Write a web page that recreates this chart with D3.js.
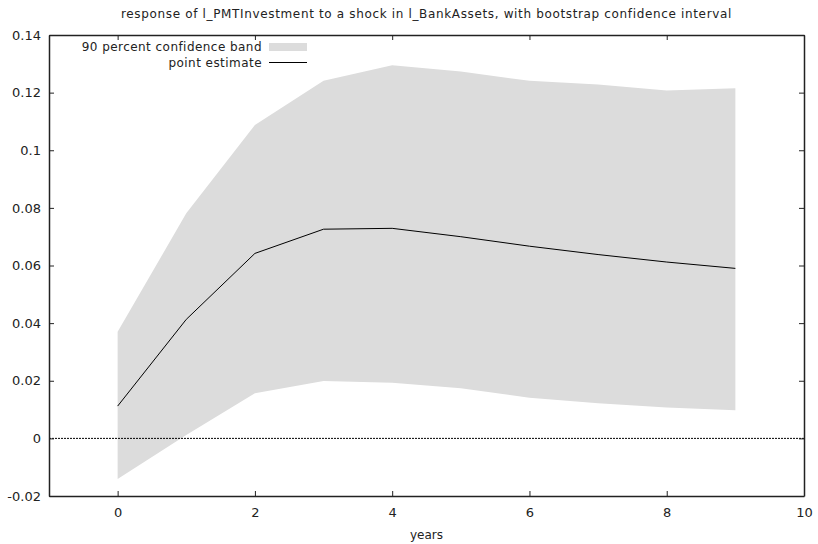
<!DOCTYPE html>
<html>
<head>
<meta charset="utf-8">
<script src="https://cdn.jsdelivr.net/npm/d3@7"></script>
<style>
  body { margin: 0; background: #fff; }
  svg { display: block; font-family: "DejaVu Sans", Verdana, sans-serif; }
</style>
</head>
<body>
<div id="chart"></div>
<script>
const years = [0, 1, 2, 3, 4, 5, 6, 7, 8, 9];
const pointEstimate = [0.0112, 0.0413, 0.0642, 0.0726, 0.0729, 0.0700, 0.0667, 0.0638, 0.0612, 0.0590];
const upperBand = [0.0370, 0.0781, 0.1088, 0.1241, 0.1295, 0.1273, 0.1241, 0.1228, 0.1207, 0.1215];
const lowerBand = [-0.0141, 0.0012, 0.0157, 0.0199, 0.0193, 0.0174, 0.0141, 0.0122, 0.0107, 0.0098];
const xTicks = [0, 2, 4, 6, 8, 10];
const yTicks = [-0.02, 0, 0.02, 0.04, 0.06, 0.08, 0.1, 0.12, 0.14];

const W = 818, H = 544;
const m = { left: 49, right: 14, top: 35, bottom: 48 };

const svg = d3.select("#chart").append("svg")
  .attr("width", W).attr("height", H);

const x = d3.scaleLinear().domain([-1, 10]).range([m.left, W - m.right]);
const y = d3.scaleLinear().domain([-0.02, 0.14]).range([H - m.bottom, m.top]);

const rows = years.map((yr, i) => ({ yr, pe: pointEstimate[i], lo: lowerBand[i], hi: upperBand[i] }));

// band
svg.append("path")
  .datum(rows)
  .attr("fill", "#dcdcdc")
  .attr("d", d3.area().x(d => x(d.yr)).y0(d => y(d.lo)).y1(d => y(d.hi)));

// zero line
svg.append("line")
  .attr("x1", x(-1)).attr("x2", x(10))
  .attr("y1", y(0)).attr("y2", y(0))
  .attr("stroke", "#000").attr("stroke-width", 1)
  .attr("stroke-dasharray", "2,1");

// point estimate
svg.append("path")
  .datum(rows)
  .attr("fill", "none")
  .attr("stroke", "#000")
  .attr("stroke-width", 1)
  .attr("d", d3.line().x(d => x(d.yr)).y(d => y(d.pe)));

// axes (ticks inward, mirrored)
const fmt = d => d === 0 ? "0" : String(+d.toFixed(2));
const tk = 5;
const axLeft = svg.append("g").attr("transform", `translate(${m.left},0)`)
  .call(d3.axisLeft(y).tickValues(yTicks).tickSizeInner(-tk).tickSizeOuter(0).tickPadding(8).tickFormat(fmt));
const axRight = svg.append("g").attr("transform", `translate(${W - m.right},0)`)
  .call(d3.axisRight(y).tickValues(yTicks).tickSizeInner(-tk).tickSizeOuter(0).tickFormat(""));
const axBottom = svg.append("g").attr("transform", `translate(0,${H - m.bottom})`)
  .call(d3.axisBottom(x).tickValues(xTicks).tickSizeInner(-tk).tickSizeOuter(0).tickPadding(12).tickFormat(d3.format("d")));
const axTop = svg.append("g").attr("transform", `translate(0,${m.top})`)
  .call(d3.axisTop(x).tickValues(xTicks).tickSizeInner(-tk).tickSizeOuter(0).tickFormat(""));

[axLeft, axRight, axBottom, axTop].forEach(g => {
  g.select(".domain").attr("stroke", "#222").attr("stroke-width", 1.5);
  g.selectAll(".tick line").attr("stroke", "#222");
  g.selectAll("text").attr("fill", "#222").style("font-size", "13px")
    .style("font-family", '"DejaVu Sans", Verdana, sans-serif');
});

// title
svg.append("text")
  .attr("x", (x(-1) + x(10)) / 2).attr("y", 18)
  .attr("text-anchor", "middle")
  .style("font-size", "12px").style("letter-spacing", "0.65px").attr("fill", "#222")
  .text("response of l_PMTInvestment to a shock in l_BankAssets, with bootstrap confidence interval");

// x label
svg.append("text")
  .attr("x", (x(-1) + x(10)) / 2).attr("y", 539)
  .attr("text-anchor", "middle")
  .style("font-size", "12px").attr("fill", "#222")
  .text("years");

// legend
const lg = svg.append("g");
lg.append("text").attr("x", 262).attr("y", 51).attr("text-anchor", "end")
  .style("font-size", "12px").style("letter-spacing", "0.45px").attr("fill", "#222").text("90 percent confidence band");
lg.append("rect").attr("x", 269).attr("y", 43).attr("width", 38).attr("height", 8).attr("fill", "#dcdcdc");
lg.append("text").attr("x", 262).attr("y", 67).attr("text-anchor", "end")
  .style("font-size", "12px").style("letter-spacing", "0.45px").attr("fill", "#222").text("point estimate");
lg.append("line").attr("x1", 269).attr("x2", 307).attr("y1", 62.5).attr("y2", 62.5)
  .attr("stroke", "#000").attr("stroke-width", 1);
</script>
</body>
</html>
